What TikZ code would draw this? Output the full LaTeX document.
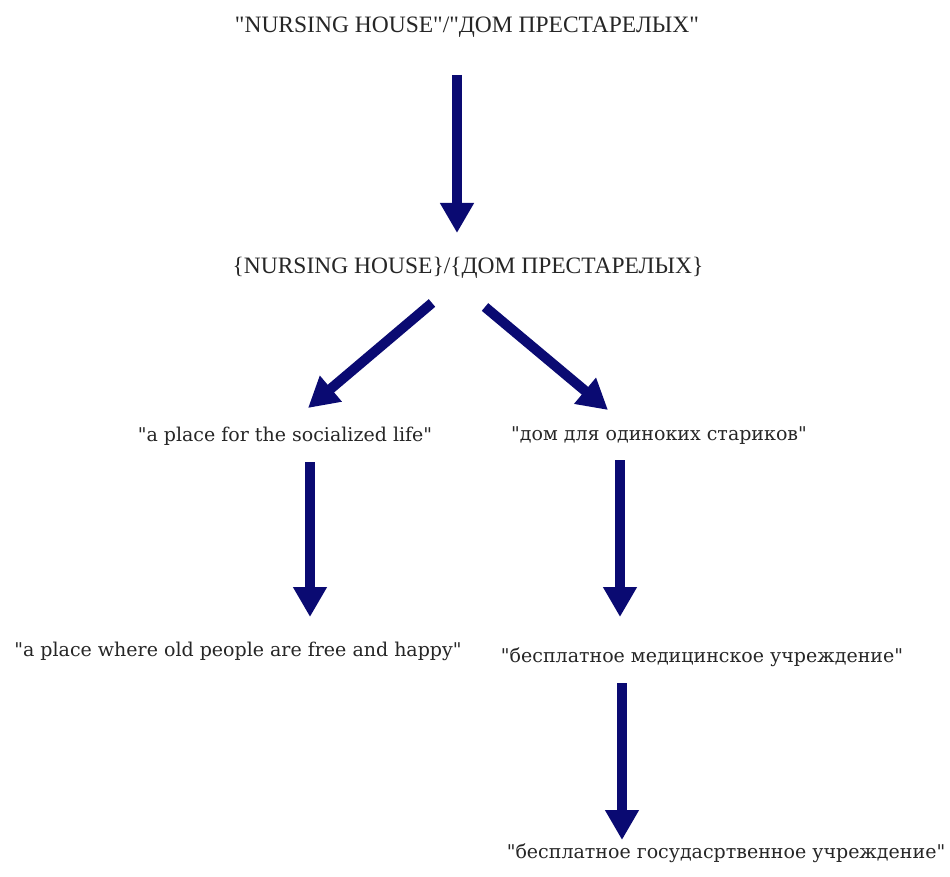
\documentclass[tikz,border=0pt]{standalone}
\usepackage{fontspec}
\setmainfont{Liberation Serif}[Ligatures=TeXOff]
\newfontfamily\wideserif{DejaVu Serif}
\usetikzlibrary{arrows.meta}
\definecolor{arrowblue}{HTML}{0A0A72}
\tikzset{
  toplabel/.style={inner sep=0pt, font=\fontsize{23.5}{28}\selectfont, text=black!85},
  lowlabel/.style={inner sep=0pt, font=\wideserif\fontsize{19}{23}\selectfont, text=black!85},
  bigarrow/.style={draw=arrowblue, line width=10pt, -{Triangle[width=32pt,length=30pt]}, arrowblue}
}
\begin{document}
\begin{tikzpicture}[x=1pt,y=-1pt]
\useasboundingbox[fill=white] (0,0) rectangle (950,877);
\node[toplabel] (t1) at (467,27) {"NURSING HOUSE"/"ДОМ ПРЕСТАРЕЛЫХ"};
\node[toplabel] (t2) at (468,268) {\{NURSING HOUSE\}/\{ДОМ ПРЕСТАРЕЛЫХ\}};
\node[lowlabel] (l1) at (285,436) {"a place for the socialized life"};
\node[lowlabel] (r1) at (659,436) {"дом для одиноких стариков"};
\node[lowlabel] (l2) at (238,651) {"a place where old people are free and happy"};
\node[lowlabel] (r2) at (702,657) {"бесплатное медицинское учреждение"};
\node[lowlabel] (r3) at (726,853) {"бесплатное госудасртвенное учреждение"};
\coordinate (a1s) at (457,75);  \coordinate (a1e) at (457,233);
\coordinate (a2s) at (432,303); \coordinate (a2e) at (308,408);
\coordinate (a3s) at (485,307); \coordinate (a3e) at (608,410);
\coordinate (a4s) at (310,462); \coordinate (a4e) at (310,617);
\coordinate (a5s) at (620,460); \coordinate (a5e) at (620,617);
\coordinate (a6s) at (622,683); \coordinate (a6e) at (622,840);
\draw[bigarrow] (a1s) -- (a1e);
\draw[bigarrow] (a2s) -- (a2e);
\draw[bigarrow] (a3s) -- (a3e);
\draw[bigarrow] (a4s) -- (a4e);
\draw[bigarrow] (a5s) -- (a5e);
\draw[bigarrow] (a6s) -- (a6e);
\end{tikzpicture}
\end{document}
